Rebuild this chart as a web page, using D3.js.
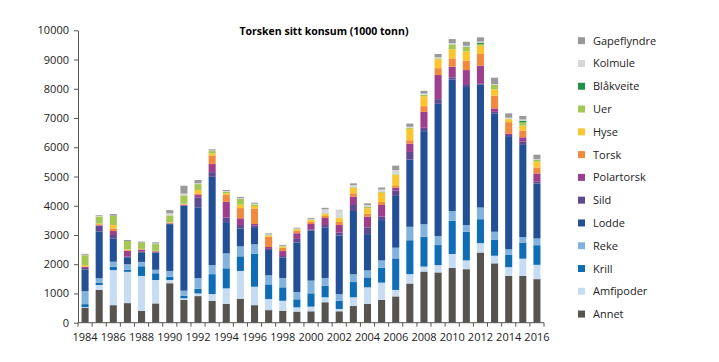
<!DOCTYPE html>
<html lang="no">
  <head>
    <meta charset="UTF-8" />
    <title>Torsken sitt konsum</title>
    <script src="https://cdn.jsdelivr.net/npm/d3@7"></script>
  </head>
  <body>
    <svg></svg>
    <style>
      body {
        margin: 0;
        background: #fff;
      }
      svg {
        width: 719px;
        height: 362px;
        font-family: "Open Sans", sans-serif;
      }
    </style>
    <script>
      const years = [1984, 1985, 1986, 1987, 1988, 1989, 1990, 1991, 1992, 1993, 1994, 1995, 1996, 1997, 1998, 1999, 2000,
        2001, 2002, 2003, 2004, 2005, 2006, 2007, 2008, 2009, 2010, 2011, 2012, 2013, 2014, 2015, 2016];

      // one array per prey group, 1000 tonn
      const annet = [510, 1120, 600, 670, 400, 660, 1350, 780, 910, 750, 640, 820, 600, 430, 410, 380, 390,
        700, 390, 570, 640, 780, 900, 1340, 1750, 1720, 1870, 1830, 2400, 2030, 1600, 1600, 1490];
      const amfipoder = [25, 170, 1200, 1070, 1200, 800, 110, 55, 90, 230, 535, 950, 630, 380, 340, 145, 160,
        170, 80, 300, 570, 590, 220, 320, 170, 250, 480, 300, 320, 260, 300, 590, 490];
      const krill = [100, 70, 115, 70, 330, 230, 110, 90, 160, 680, 685, 500, 1130, 500, 460, 275, 455,
        390, 280, 520, 340, 510, 1080, 1160, 1020, 685, 1140, 980, 820, 540, 420, 550, 670];
      const reke = [445, 160, 170, 190, 150, 120, 200, 170, 365, 310, 510, 340, 320, 310, 320, 250, 435,
        270, 230, 265, 240, 250, 365, 460, 430, 310, 330, 230, 400, 280, 190, 190, 230];
      const lodde = [740, 1600, 800, 240, 330, 580, 1600, 2900, 2420, 3020, 1070, 615, 560, 865, 705, 1690, 1710,
        1730, 2000, 2165, 1240, 1380, 1770, 2300, 3180, 4520, 4500, 4720, 4200, 4050, 3870, 3150, 1880];
      const sild = [55, 185, 115, 20, 20, 20, 15, 20, 340, 160, 150, 115, 90, 40, 45, 125, 45,
        80, 100, 205, 230, 115, 180, 260, 115, 160, 70, 100, 30, 50, 40, 110, 60];
      const polartorsk = [35, 25, 135, 200, 70, 30, 15, 20, 80, 275, 545, 230, 45, 65, 170, 195, 180,
        240, 260, 285, 365, 400, 105, 285, 545, 825, 365, 480, 620, 120, 50, 150, 285];
      const torsk = [20, 35, 90, 20, 10, 10, 10, 15, 55, 295, 230, 350, 535, 350, 115, 90, 80,
        70, 105, 115, 105, 100, 55, 115, 195, 235, 285, 320, 400, 430, 390, 230, 205];
      const hyse = [40, 25, 115, 25, 15, 10, 20, 20, 115, 70, 55, 115, 80, 45, 35, 45, 55,
        70, 130, 180, 180, 320, 375, 390, 340, 305, 310, 320, 280, 220, 100, 170, 195];
      const uer = [340, 240, 320, 290, 220, 230, 240, 285, 205, 80, 55, 195, 55, 20, 20, 20, 20,
        20, 20, 25, 55, 30, 20, 35, 50, 30, 170, 140, 60, 150, 20, 110, 55];
      const blaakveite = [0, 0, 0, 0, 0, 0, 0, 0, 0, 0, 0, 0, 0, 0, 0, 0, 0,
        0, 0, 0, 0, 0, 0, 0, 0, 0, 0, 10, 40, 0, 0, 60, 10];
      const kolmule = [15, 20, 0, 0, 0, 20, 70, 60, 30, 20, 25, 30, 25, 20, 10, 10, 15,
        140, 255, 80, 60, 80, 150, 35, 45, 40, 40, 40, 40, 30, 30, 40, 25];
      const gapeflyndre = [30, 25, 55, 35, 30, 40, 110, 270, 110, 40, 40, 40, 35, 30, 30, 25, 30,
        50, 10, 55, 55, 70, 150, 110, 90, 110, 140, 140, 150, 220, 150, 120, 150];

      const series = [
        { key: "Annet", values: annet, color: "#57534f" },
        { key: "Amfipoder", values: amfipoder, color: "#c6dcf2" },
        { key: "Krill", values: krill, color: "#0f6db5" },
        { key: "Reke", values: reke, color: "#82b3de" },
        { key: "Lodde", values: lodde, color: "#234f96" },
        { key: "Sild", values: sild, color: "#5e4a93" },
        { key: "Polartorsk", values: polartorsk, color: "#9e3f8d" },
        { key: "Torsk", values: torsk, color: "#f08a3e" },
        { key: "Hyse", values: hyse, color: "#fcc42e" },
        { key: "Uer", values: uer, color: "#a4c753" },
        { key: "Blåkveite", values: blaakveite, color: "#1f9245" },
        { key: "Kolmule", values: kolmule, color: "#d7d7d7" },
        { key: "Gapeflyndre", values: gapeflyndre, color: "#999999" }
      ];
      const yTicks = [0, 1000, 2000, 3000, 4000, 5000, 6000, 7000, 8000, 9000, 10000];

      const svg = d3.select("svg");
      const plotLeft = 78, plotRight = 544, plotTop = 30.3, plotBottom = 322.7;

      const table = years.map((yr, i) => {
        const row = { year: yr };
        series.forEach((s) => (row[s.key] = s.values[i]));
        return row;
      });
      const stacked = d3.stack().keys(series.map((s) => s.key))(table);

      const x = d3.scaleBand().domain(years).range([plotLeft, plotRight]).paddingInner(0.5).paddingOuter(0.25);
      const y = d3.scaleLinear().domain([0, 10000]).range([plotBottom, plotTop]);
      const color = d3.scaleOrdinal().domain(series.map((s) => s.key)).range(series.map((s) => s.color));

      svg
        .append("text")
        .attr("x", 324)
        .attr("y", 35)
        .attr("text-anchor", "middle")
        .attr("font-size", 10.5)
        .attr("font-weight", "bold")
        .text("Torsken sitt konsum (1000 tonn)");

      svg
        .append("g")
        .selectAll("g")
        .data(stacked)
        .join("g")
        .attr("fill", (d) => color(d.key))
        .selectAll("rect")
        .data((d) => d)
        .join("rect")
        .attr("x", (d) => x(d.data.year))
        .attr("width", x.bandwidth())
        .attr("y", (d) => y(d[1]))
        .attr("height", (d) => y(d[0]) - y(d[1]));

      // y axis
      const yAxis = svg
        .append("g")
        .attr("transform", `translate(${plotLeft},0)`)
        .call(d3.axisLeft(y).tickValues(yTicks).tickFormat(d3.format("d")).tickSize(4).tickSizeOuter(0));
      yAxis.selectAll("text").attr("font-size", 11).attr("font-family", "Open Sans").attr("fill", "#222").attr("dx", "-2");
      yAxis.select(".domain").attr("stroke", "#555");
      yAxis.selectAll(".tick line").attr("stroke", "#555");

      // x axis: ticks between bars, labels every second year
      const step = x.step();
      const xAxisG = svg.append("g").attr("transform", `translate(0,${plotBottom})`);
      xAxisG
        .append("line")
        .attr("x1", plotLeft)
        .attr("x2", plotRight)
        .attr("stroke", "#555");
      xAxisG
        .selectAll("line.tick")
        .data(d3.range(years.length + 1))
        .join("line")
        .attr("class", "tick")
        .attr("x1", (i) => plotLeft + i * step)
        .attr("x2", (i) => plotLeft + i * step)
        .attr("y2", 4)
        .attr("stroke", "#555");
      xAxisG
        .selectAll("text")
        .data(years.filter((yr) => yr % 2 === 0))
        .join("text")
        .attr("x", (yr) => x(yr) + x.bandwidth() / 2)
        .attr("y", 18)
        .attr("text-anchor", "middle")
        .attr("font-size", 11)
        .attr("fill", "#222")
        .text((yr) => yr);

      // legend, top entry is the top of the stack
      const legend = svg
        .append("g")
        .selectAll("g")
        .data(series.slice().reverse())
        .join("g")
        .attr("transform", (d, i) => `translate(578,${40.7 + i * 22.78})`);
      legend.append("rect").attr("x", 0).attr("y", -3.5).attr("width", 7).attr("height", 7).attr("fill", (d) => d.color);
      legend
        .append("text")
        .attr("x", 15)
        .attr("y", 4)
        .attr("font-size", 11)
        .attr("fill", "#222")
        .text((d) => d.key);
    </script>
  </body>
</html>
